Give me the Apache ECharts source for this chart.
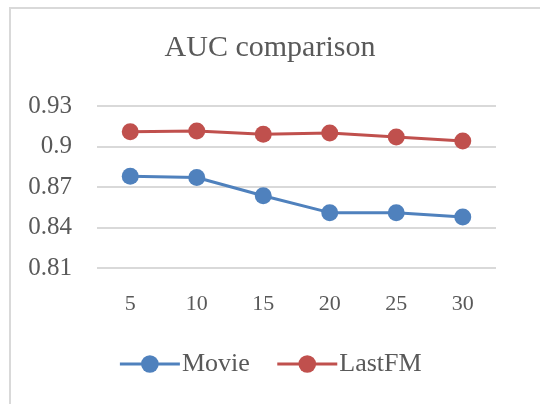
<!DOCTYPE html>
<html>
<head>
<meta charset="utf-8">
<script src="https://cdn.jsdelivr.net/npm/echarts@6/dist/echarts.min.js"></script>
<style>
  html, body { margin: 0; padding: 0; background: #fff; }
  #chart { width: 540px; height: 404px; }
</style>
</head>
<body>
<div id="chart"></div>
<script>
// Number of neighbours k on the x axis
const categories = ['5', '10', '15', '20', '25', '30'];
// AUC per dataset
const movieAUC = [0.878, 0.877, 0.8635, 0.851, 0.851, 0.8478];
const lastfmAUC = [0.911, 0.9115, 0.909, 0.910, 0.907, 0.904];
// Value axis range
const yMin = 0.81;
const yMax = 0.93;
const yStep = 0.03;

const FONT = '"Liberation Serif", "DejaVu Serif", serif';
const TEXT = '#595959';
const BLUE = '#4F81BD';
const RED = '#C0504D';

const chart = echarts.init(document.getElementById('chart'), null, { renderer: 'canvas' });

chart.setOption({
  backgroundColor: '#ffffff',
  animation: false,
  graphic: [{
    type: 'polyline',
    shape: { points: [[10, 410], [10, 8], [545, 8]] },
    style: { stroke: '#D9D9D9', lineWidth: 2, fill: null },
    silent: true
  }],
  title: {
    text: 'AUC comparison',
    left: 'center',
    top: 28,
    textStyle: { fontFamily: FONT, fontSize: 30, fontWeight: 'normal', color: TEXT }
  },
  legend: {
    bottom: 22,
    left: 'center',
    itemWidth: 60,
    itemHeight: 22,
    itemGap: 26,
    lineStyle: { width: 3 },
    textStyle: { fontFamily: FONT, fontSize: 26, color: TEXT, padding: [0, 0, 0, -3] },
    data: ['Movie', 'LastFM']
  },
  grid: { left: 97, right: 44, top: 106, bottom: 136 },
  xAxis: {
    type: 'category',
    data: categories,
    boundaryGap: true,
    axisLine: { show: false },
    axisTick: { show: false },
    axisLabel: { fontFamily: FONT, fontSize: 22, color: TEXT, margin: 25 }
  },
  yAxis: {
    type: 'value',
    min: yMin,
    max: yMax,
    interval: yStep,
    axisLine: { show: false },
    axisTick: { show: false },
    splitLine: { lineStyle: { color: '#D9D9D9', width: 2 } },
    axisLabel: {
      fontFamily: FONT, fontSize: 25, color: TEXT, margin: 25,
      formatter: v => String(parseFloat(v.toFixed(2)))
    }
  },
  series: [
    {
      name: 'Movie',
      type: 'line',
      data: movieAUC,
      symbol: 'circle',
      symbolSize: 17,
      itemStyle: { color: BLUE },
      lineStyle: { color: BLUE, width: 3 }
    },
    {
      name: 'LastFM',
      type: 'line',
      data: lastfmAUC,
      symbol: 'circle',
      symbolSize: 17,
      itemStyle: { color: RED },
      lineStyle: { color: RED, width: 3 }
    }
  ]
});
</script>
</body>
</html>
